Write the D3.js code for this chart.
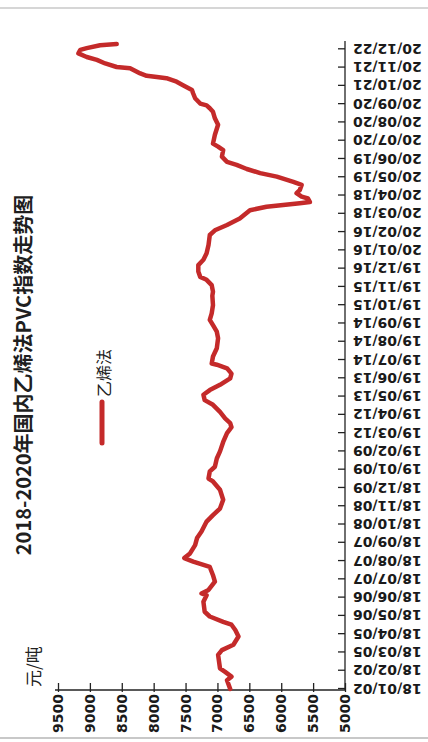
<!DOCTYPE html>
<html>
<head>
<meta charset="utf-8">
<script src="https://cdn.jsdelivr.net/npm/d3@7"></script>
<style>
  html, body { margin: 0; padding: 0; background: #fff; }
  svg { display: block; }
</style>
</head>
<body>
<svg id="chart" width="428" height="742"></svg>
<script>
// ---- data ----
const title = "2018-2020年国内乙烯法PVC指数走势图";
const unitLabel = "元/吨";
const seriesName = "乙烯法";

const dates = [
  "2018-01-02","2018-01-17","2018-01-23","2018-01-31","2018-02-06","2018-03-01","2018-03-09","2018-03-18",
  "2018-04-01","2018-04-12","2018-04-21","2018-04-26","2018-05-05","2018-05-13","2018-05-30","2018-06-10",
  "2018-06-13","2018-06-19","2018-07-03","2018-07-14","2018-07-28","2018-08-06","2018-08-12","2018-08-20",
  "2018-09-03","2018-09-15","2018-09-26","2018-10-13","2018-10-24","2018-11-04","2018-11-19","2018-12-06",
  "2018-12-20","2018-12-25",
  "2019-01-06","2019-01-14","2019-01-28","2019-02-09","2019-02-25","2019-03-12","2019-03-22","2019-03-29",
  "2019-04-06","2019-04-17","2019-04-29","2019-05-07","2019-05-16","2019-05-24","2019-06-02","2019-06-13",
  "2019-06-21","2019-06-30","2019-07-06","2019-07-08","2019-07-20","2019-08-03","2019-08-20","2019-08-31",
  "2019-09-11","2019-09-20","2019-10-01","2019-10-15","2019-10-31","2019-11-07","2019-11-18","2019-11-27",
  "2019-12-02","2019-12-11","2019-12-22","2019-12-31",
  "2020-01-11","2020-01-25","2020-02-11","2020-02-19","2020-02-28","2020-03-10","2020-03-24","2020-03-30",
  "2020-04-02","2020-04-05","2020-04-07","2020-04-13","2020-04-16","2020-04-22","2020-04-27","2020-05-06",
  "2020-05-11","2020-05-20","2020-05-26","2020-06-02","2020-06-09","2020-06-14","2020-06-23","2020-07-04",
  "2020-07-10","2020-07-15","2020-07-30","2020-08-16","2020-08-27","2020-09-07","2020-09-13","2020-09-18",
  "2020-09-21","2020-09-30","2020-10-08","2020-10-14","2020-10-22","2020-10-28","2020-11-03","2020-11-05",
  "2020-11-07","2020-11-11","2020-11-20","2020-11-22","2020-11-28","2020-12-04","2020-12-09","2020-12-15",
  "2020-12-21","2020-12-24","2020-12-29","2020-12-31"
];

const values = [
  6800,6850,6780,6880,6960,6990,6930,6750,
  6670,6720,6780,6910,7120,7200,7220,7170,
  7250,7140,7040,7070,7120,7380,7520,7430,
  7350,7320,7250,7170,7070,6960,6910,6960,
  7070,7140,
  7120,7040,7010,6960,6910,6850,6780,6800,
  6880,6960,7070,7200,7220,7120,6960,6800,
  6780,6850,7010,7090,7070,7010,6990,7010,
  7070,7120,7090,7070,7080,7070,7090,7170,
  7270,7300,7300,7220,
  7170,7140,7120,7040,6850,6650,6490,6230,
  5970,5710,5550,5580,5680,5760,5710,5680,
  5810,6070,6330,6540,6700,6850,6930,6910,
  6990,7070,7040,6990,7040,7070,7120,7170,
  7270,7350,7380,7400,7540,7640,7800,7950,
  8110,8210,8370,8580,8760,8890,9050,9180,
  9150,9050,8840,8580
];

const valueTicks = [5000, 5500, 6000, 6500, 7000, 7500, 8000, 8500, 9000, 9500];

const dateTickLabels = [
  "18/01/02","18/02/02","18/03/05","18/04/05","18/05/06","18/06/06","18/07/07","18/08/07","18/09/07",
  "18/10/08","18/11/08","18/12/09","19/01/09","19/02/09","19/03/12","19/04/12","19/05/13","19/06/13",
  "19/07/14","19/08/14","19/09/14","19/10/15","19/11/15","19/12/16","20/01/16","20/02/16","20/03/18",
  "20/04/18","20/05/19","20/06/19","20/07/20","20/08/20","20/09/20","20/10/21","20/11/21","20/12/22"
];

// ---- setup ----
const W = 428, H = 742;
const lineColor = "#c42a2a";
const parseDay = d3.timeParse("%Y-%m-%d");
const parseTick = d3.timeParse("%y/%m/%d");

const series = dates.map((d, i) => ({ date: parseDay(d), value: values[i] }));
const tickDates = dateTickLabels.map(parseTick);

const svg = d3.select("#chart");
svg.append("rect").attr("width", W).attr("height", H).attr("fill", "#fff");

// page edges
svg.append("line").attr("x1", 0).attr("x2", W).attr("y1", 8).attr("y2", 8)
  .attr("stroke", "#c8c8c8").attr("stroke-width", 1.5);
svg.append("line").attr("x1", 0).attr("x2", W).attr("y1", 738).attr("y2", 738)
  .attr("stroke", "#c8c8c8").attr("stroke-width", 2);

// The chart is laid out as a landscape page (742 wide, 428 tall) and turned a quarter turn.
const g = svg.append("g").attr("transform", `translate(0,${H}) rotate(-90)`);

const x = d3.scaleTime()
  .domain([tickDates[0], series[series.length - 1].date])
  .range([53, 698]);

const y = d3.scaleLinear()
  .domain([5000, 9500])
  .range([345, 58]);

// date axis
const xAxis = g.append("g")
  .attr("transform", `translate(0,${y(5000)})`)
  .call(d3.axisBottom(x)
    .tickValues(tickDates)
    .tickFormat((d, i) => dateTickLabels[i])
    .tickSizeInner(-7)
    .tickSizeOuter(0));
xAxis.select(".domain").attr("stroke", "#222").attr("stroke-width", 1.3)
  .attr("d", `M${x.range()[0] - 1},0H${x.range()[1] + 3}`);
xAxis.selectAll(".tick line").attr("stroke", "#222").attr("stroke-width", 1.3);
xAxis.selectAll(".tick text")
  .attr("transform", "rotate(-90)")
  .attr("x", -8).attr("y", 0).attr("dy", "0.35em")
  .attr("text-anchor", "end")
  .attr("fill", "#1a1a1a")
  .style("font-family", "'DejaVu Sans', sans-serif")
  .style("font-weight", "bold")
  .style("font-size", "14px");

// value axis
const yAxis = g.append("g")
  .attr("transform", `translate(${x.range()[0] - 1},0)`)
  .call(d3.axisLeft(y)
    .tickValues(valueTicks)
    .tickFormat(d3.format("d"))
    .tickSizeInner(-7)
    .tickSizeOuter(0)
    .tickPadding(4));
yAxis.select(".domain").attr("stroke", "#222").attr("stroke-width", 1.3)
  .attr("d", `M0,${y(9500) - 3}V${y(5000)}`);
yAxis.selectAll(".tick line").attr("x1", -2).attr("stroke", "#222").attr("stroke-width", 1.3);
yAxis.selectAll(".tick text")
  .attr("fill", "#1a1a1a")
  .style("font-family", "'DejaVu Sans', sans-serif")
  .style("font-weight", "bold")
  .style("font-size", "14px");

// series line
const line = d3.line()
  .x(d => x(d.date))
  .y(d => y(d.value))
  .curve(d3.curveLinear);

g.append("path")
  .datum(series)
  .attr("fill", "none")
  .attr("stroke", lineColor)
  .attr("stroke-width", 4.5)
  .attr("stroke-linejoin", "round")
  .attr("stroke-linecap", "round")
  .attr("d", line);

// title
g.append("text")
  .attr("x", 367).attr("y", 31)
  .attr("text-anchor", "middle")
  .attr("fill", "#1f1f1f")
  .style("font-family", "'Noto Sans CJK SC', sans-serif")
  .style("font-weight", "bold")
  .style("font-size", "20px")
  .text(title);

// unit
g.append("text")
  .attr("x", 55).attr("y", 40)
  .attr("fill", "#222")
  .style("font-family", "'Noto Sans CJK SC', sans-serif")
  .style("font-size", "17px")
  .text(unitLabel);

// legend
const legend = g.append("g").attr("transform", "translate(299,104)");
legend.append("line")
  .attr("x1", 0).attr("x2", 41).attr("y1", -2).attr("y2", -2)
  .attr("stroke", lineColor).attr("stroke-width", 5).attr("stroke-linecap", "round");
legend.append("text")
  .attr("x", 46).attr("y", 0).attr("dy", "0.35em")
  .attr("fill", "#222")
  .style("font-family", "'Noto Sans CJK SC', sans-serif")
  .style("font-size", "16px")
  .text(seriesName);
</script>
</body>
</html>
